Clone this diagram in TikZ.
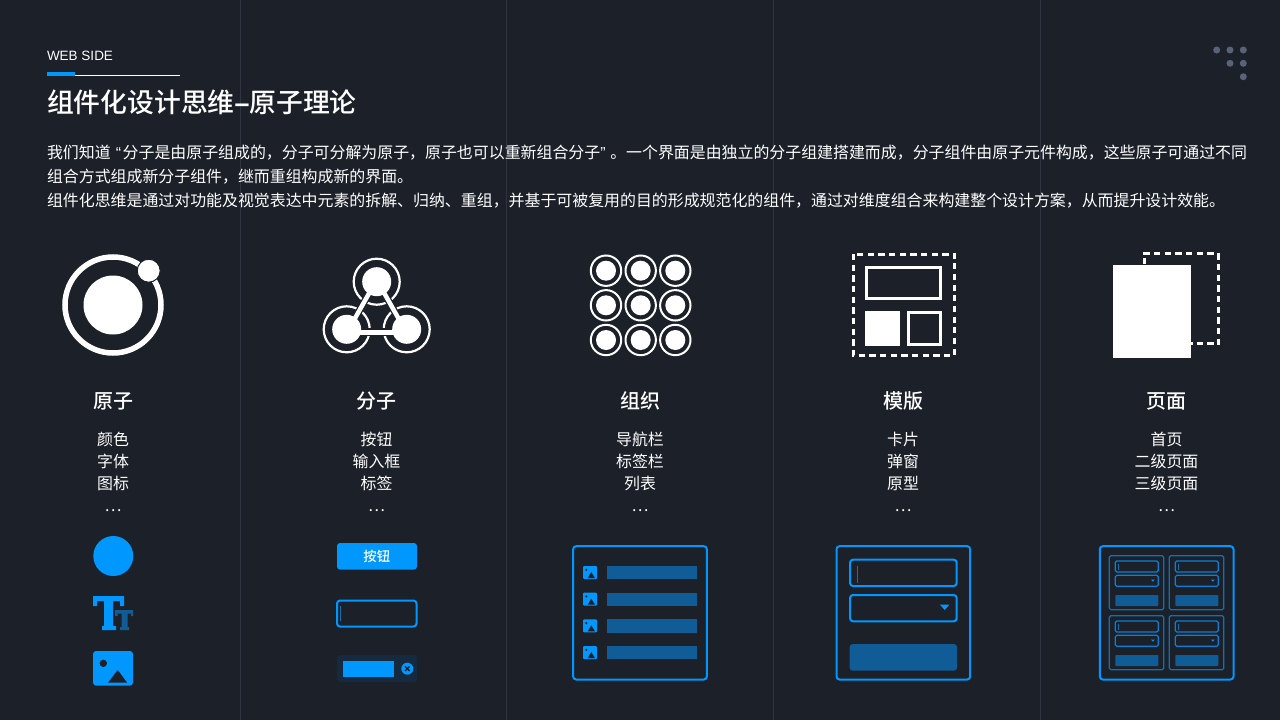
\documentclass[tikz,border=0pt]{standalone}
\usepackage{fontspec}
\setmainfont{Noto Sans CJK SC}
\newfontfamily\cjkmed[UprightFont=* Medium,BoldFont=* Medium]{Noto Sans CJK SC}
\newfontfamily\latinf{Liberation Sans}
\newcommand{\lqq}{\makebox[12pt][r]{\latinf “\hspace{1.5pt}}}
\newcommand{\rqq}{\makebox[10pt][l]{\latinf ”}}
\definecolor{bgc}{HTML}{1C2029}
\definecolor{sepc}{HTML}{2F3440}
\definecolor{bluec}{HTML}{0098FF}
\definecolor{dblue}{HTML}{0F5C96}
\definecolor{mblue}{HTML}{0F70B5}
\definecolor{tagbg}{HTML}{15293F}
\definecolor{dotc}{HTML}{596276}
\tikzset{
  txt/.style={text=white,inner sep=0pt,outer sep=0pt},
  body/.style={txt,anchor=west,font=\fontsize{15.92}{16}\selectfont},
  head/.style={txt,font=\cjkmed\fontsize{20}{20}\selectfont},
  item/.style={txt,font=\fontsize{15.92}{16}\selectfont},
  ringline/.style={draw=white,fill=none},
  bluebox/.style={draw=bluec,line width=2pt,fill=none,rounded corners=3pt},
  dashline/.style={draw=white,line width=3pt,dash pattern=on 6.2pt off 4.47pt},
}
\newcommand{\smallimg}[2]{% x, y top-left, 14x13
  \fill[bluec,rounded corners=1pt] (#1,#2) rectangle ++(14,13);
  \fill[bgc] (#1+3.3,#2+3.8) circle (1.2);
  \fill[bgc] (#1+8.2,#2+6) -- (#1+12,#2+12) -- (#1+4.8,#2+12) -- cycle;
}
\newcommand{\subcard}[2]{%
  \draw[draw=mblue,line width=1.2pt,rounded corners=1.5pt] (#1,#2) rectangle ++(54.4,54);
  \draw[draw=mblue!60!bluec,line width=1.2pt,rounded corners=1.5pt] (#1+6,#2+5.3) rectangle ++(43,11);
  \draw[draw=mblue!60!bluec,line width=1.2pt,rounded corners=1.5pt] (#1+6,#2+19.6) rectangle ++(43,11);
  \draw[draw=mblue,line width=.8pt] (#1+9,#2+8) -- ++(0,6);
  \fill[bluec] (#1+41.5,#2+23.8) -- ++(4,0) -- ++(-2,2) -- cycle;
  \fill[dblue,rounded corners=.8pt] (#1+6,#2+39.3) rectangle ++(43,11);
}
\begin{document}
\begin{tikzpicture}[x=1pt,y=-1pt]
\useasboundingbox (0,0) rectangle (1280,720);
\fill[bgc] (0,0) rectangle (1280,720);
% column separators
\foreach \xx in {240,506.5,773,1040}{\draw[sepc,line width=1pt] (\xx,0) -- (\xx,720);}
% dots
\foreach \xx/\yy in {1216.7/50,1230/50,1243.3/50,1230/63.3,1243.3/63.3,1243.3/76.7}{\fill[dotc] (\xx,\yy) circle (3.5);}
% header
\node[txt,anchor=west,font=\latinf\fontsize{13.5}{13.5}\selectfont] (web) at (47,56) {WEB SIDE};
\draw[white,line width=1pt] (47,75.5) -- (180,75.5);
\fill[bluec] (47,72) rectangle (75,76);
\node[txt,anchor=west,font=\cjkmed\fontsize{26.8}{27}\selectfont] (title) at (47,102.5) {组件化设计思维{\latinf\bfseries –}原子理论};
\node[body] (p1) at (47,152.5) {我们知道\lqq 分子是由原子组成的，分子可分解为原子，原子也可以重新组合分子\rqq 。一个界面是由独立的分子组建搭建而成，分子组件由原子元件构成，这些原子可通过不同};
\node[body] (p2) at (47,176.5) {组合方式组成新分子组件，继而重组构成新的界面。};
\node[body] (p3) at (47,200.5) {组件化思维是通过对功能及视觉表达中元素的拆解、归纳、重组，并基于可被复用的目的形成规范化的组件，通过对维度组合来构建整个设计方案，从而提升设计效能。};
% icons: atom
\draw[ringline,line width=5.5pt] (113,305) circle (48);
\fill[white] (113,305) circle (29.5);
\fill[white,draw=bgc,line width=1pt] (148.7,270.7) circle (11.5);
% molecule
\foreach \xx/\yy in {376.7/281.7,346.7/329.3,406.7/329.3}{
  \draw[ringline,line width=2.2pt] (\xx,\yy) circle (23);
}
\draw[bgc,line width=7pt] (375.6,281.7) -- (348.8,329.3);
\draw[bgc,line width=7pt] (377.8,281.7) -- (404.6,329.3);
\draw[bgc,line width=7.5pt] (346.7,332) -- (406.7,332);
\foreach \xx/\yy in {376.7/281.7,346.7/329.3,406.7/329.3}{
  \fill[white] (\xx,\yy) circle (14.5);
}
\draw[white,line width=4.5pt] (375.6,281.7) -- (348.8,329.3);
\draw[white,line width=4.5pt] (377.8,281.7) -- (404.6,329.3);
\draw[white,line width=5pt] (346.7,332) -- (406.7,332);
% organism
\foreach \xx in {606,640.7,675.3}\foreach \yy in {270.7,305.3,340}{
  \fill[white] (\xx,\yy) circle (10);
  \draw[ringline,line width=2pt] (\xx,\yy) circle (15.2);
}
% template
\draw[dashline] (853,254) rectangle (954.5,355);
\draw[white,line width=3pt] (866.5,267.5) rectangle (940.2,298.5);
\fill[white] (865,311) rectangle (899.5,345.5);
\draw[white,line width=3pt] (908.5,312.5) rectangle (940.2,344);
% page
\draw[dashline] (1143.3,253.3) -- (1217,253.3);
\draw[dashline] (1218.5,253.3) -- (1218.5,344.5);
\draw[dashline] (1196.7,343.5) -- (1215,343.5);
\draw[white,line width=3pt] (1144,258.3) -- (1144,264);
\fill[white] (1113,265) rectangle (1191,358.3);
\fill[white] (1191,342) rectangle (1192.5,345);
% headings and lists
\foreach \nm/\xx/\hh/\a/\b/\c in {
  A/113/原子/颜色/字体/图标,
  B/376.5/分子/按钮/输入框/标签,
  C/640/组织/导航栏/标签栏/列表,
  D/903/模版/卡片/弹窗/原型,
  E/1166.5/页面/首页/二级页面/三级页面}{
  \node[head] (h\nm) at (\xx,401) {\hh};
  \node[item] (ia\nm) at (\xx,439) {\a};
  \node[item] (ib\nm) at (\xx,461) {\b};
  \node[item] (ic\nm) at (\xx,483) {\c};
  \node[item] (id\nm) at (\xx,511) {…};
}
% atom samples
\fill[bluec] (113.3,556) circle (20);
\fill[bluec] (93,596) -- (124,596) -- (124,606) -- (120,606) -- (120,601) -- (113,601) -- (113,626) -- (116,626) -- (116,630) -- (102,630) -- (102,626) -- (104,626) -- (104,601) -- (97,601) -- (97,606) -- (93,606) -- cycle;
\fill[dblue] (115,610) -- (133,610) -- (133,616) -- (131,616) -- (131,613.5) -- (127.5,613.5) -- (127.5,627) -- (129,627) -- (129,630) -- (120,630) -- (120,627) -- (121.5,627) -- (121.5,613.5) -- (117.5,613.5) -- (117.5,616) -- (115,616) -- cycle;
\fill[bluec,rounded corners=3pt] (93,651) rectangle (133,685.5);
\fill[bgc] (103.3,663.3) circle (3.7);
\fill[bgc] (117.7,670) -- (127.2,682.7) -- (108,682.7) -- cycle;
% molecule samples
\fill[bluec,rounded corners=3pt] (337,543) rectangle (417,569.5);
\node[txt,font=\cjkmed\fontsize{13.4}{13.4}\selectfont] (btn) at (376.8,556) {按钮};
\draw[bluebox] (337,600.5) rectangle (416.5,626.5);
\draw[mblue,line width=1pt] (340.7,606) -- (340.7,620.7);
\fill[tagbg,rounded corners=3pt] (337,655) rectangle (417,682);
\fill[bluec] (342.7,660.7) rectangle (394,677.3);
\fill[bluec] (407.3,668.7) circle (6);
\draw[bgc,line width=1.3pt] (405,666.4) -- (409.6,671) (409.6,666.4) -- (405,671);
% organism sample
\draw[bluebox] (573.2,546.2) rectangle (706.8,679.5);
\foreach \yy in {566,592.67,619.33,646}{
  \smallimg{583}{\yy}
  \fill[dblue] (606.7,\yy) rectangle (697,\yy+13.3);
}
% template sample
\draw[bluebox] (836.5,546.2) rectangle (970.2,679.5);
\draw[bluebox] (850,559.7) rectangle (956.7,586);
\draw[mblue,line width=1pt] (857,565.7) -- (857,582.7);
\draw[bluebox] (850,595) rectangle (956.7,621.3);
\fill[bluec] (940,604.7) -- (949.3,604.7) -- (944.7,610) -- cycle;
\fill[dblue,rounded corners=3pt] (849.7,644) rectangle (957,670.7);
% page sample
\draw[bluebox] (1099.8,546.2) rectangle (1233.5,679.5);
\subcard{1109.3}{555.7}
\subcard{1169.3}{555.7}
\subcard{1109.3}{615.7}
\subcard{1169.3}{615.7}
\end{tikzpicture}
\end{document}
